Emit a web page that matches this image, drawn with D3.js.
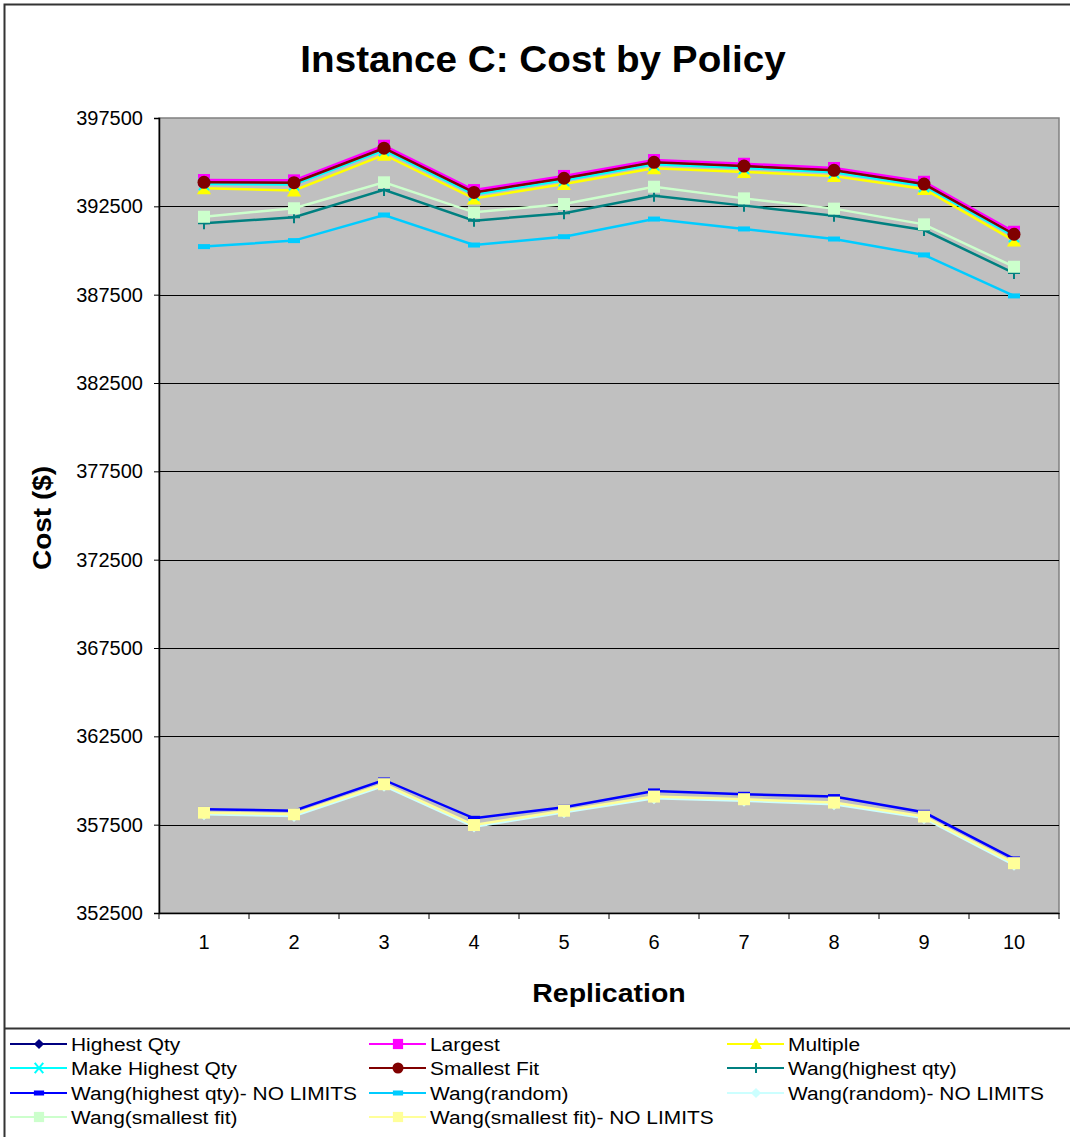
<!DOCTYPE html>
<html><head><meta charset="utf-8">
<script src="https://cdn.jsdelivr.net/npm/d3@7"></script>
<style>body{margin:0;background:#fff;} svg{display:block;font-family:"Liberation Sans",Arial,sans-serif;}</style>
</head><body>
<svg id="c" width="1070" height="1137"></svg>
<script>
const replications = [1,2,3,4,5,6,7,8,9,10];
const yTicks = [352500,357500,362500,367500,372500,377500,382500,387500,392500,397500];
const seriesNames = ["Highest Qty","Largest","Multiple","Make Highest Qty","Smallest Fit","Wang(highest qty)","Wang(highest qty)- NO LIMITS","Wang(random)","Wang(random)- NO LIMITS","Wang(smallest fit)","Wang(smallest fit)- NO LIMITS"];
const highestQty       = [393840,393820,395770,393270,394070,394970,394760,394520,393740,390900];
const largest          = [393990,393970,395930,393420,394220,395120,394910,394670,393890,391060];
const multiple         = [393520,393400,395420,392940,393760,394650,394450,394210,393480,390560];
const makeHighestQty   = [393760,393740,395680,393170,393980,394880,394670,394430,393650,390810];
const smallestFit      = [393860,393840,395790,393290,394090,394990,394780,394540,393760,390920];
const wangHighestQty   = [391540,391880,393430,391690,392110,393100,392540,391970,391160,388720];
const wangHighestQtyNL = [358370,358290,360030,357860,358490,359410,359220,359090,358200,355560];
const wangRandom       = [390220,390560,392010,390310,390780,391780,391220,390650,389750,387430];
const wangRandomNL     = [358090,357990,359700,357390,358200,359000,358850,358660,357870,355230];
const wangSmallestFit  = [391910,392390,393860,392160,392630,393610,392950,392370,391480,389080];
const wangSmallestFitNL= [358180,358090,359790,357480,358290,359090,358940,358750,357960,355320];

const seriesValues = [highestQty,largest,multiple,makeHighestQty,smallestFit,wangHighestQty,wangHighestQtyNL,wangRandom,wangRandomNL,wangSmallestFit,wangSmallestFitNL];
const styles = [
  {color:"#000080", marker:"diamond"},
  {color:"#FF00FF", marker:"square"},
  {color:"#FFFF00", marker:"triangle"},
  {color:"#00FFFF", marker:"x"},
  {color:"#800000", marker:"circle"},
  {color:"#008080", marker:"plus"},
  {color:"#0000FF", marker:"dash"},
  {color:"#00CCFF", marker:"dash"},
  {color:"#CCFFFF", marker:"diamond"},
  {color:"#CCFFCC", marker:"square"},
  {color:"#FFFF99", marker:"square"}
];

const svg = d3.select("#c");
const L=159, R=1059, T=118, B=913;
const x = d3.scaleBand().domain(replications).range([L,R]);
const y = d3.scaleLinear().domain([352500,397500]).range([B,T]);

// outer border
svg.append("rect").attr("x",4.5).attr("y",4.5).attr("width",1075).attr("height",1140)
  .attr("fill","#fff").attr("stroke","#333").attr("stroke-width",2);

// title
svg.append("text").attr("transform","translate(543,72) scale(1.045,1)").attr("text-anchor","middle")
  .attr("font-size",37).attr("font-weight","bold").text("Instance C: Cost by Policy");

// plot area
svg.append("rect").attr("x",L).attr("y",T).attr("width",R-L).attr("height",B-T)
  .attr("fill","#C0C0C0").attr("stroke","#808080").attr("stroke-width",1.5);

// gridlines
svg.append("g").selectAll("line").data(yTicks.slice(1,-1)).join("line")
  .attr("x1",L).attr("x2",R).attr("y1",d=>Math.round(y(d))+0.5).attr("y2",d=>Math.round(y(d))+0.5)
  .attr("stroke","#000").attr("stroke-width",1);

// y axis
const yAxis = d3.axisLeft(y).tickValues(yTicks).tickSize(5).tickPadding(11).tickFormat(d3.format("d"));
const gy = svg.append("g").attr("transform",`translate(${L},0)`).call(yAxis);
gy.selectAll("text").attr("font-size",20).attr("fill","#000").attr("font-family","Liberation Sans, Arial, sans-serif");
gy.selectAll("line,path").attr("stroke","#000");
gy.select(".domain").attr("stroke-width",1.5);

// x axis
const xAxis = d3.axisBottom(x).tickSize(0).tickPadding(22);
const gx = svg.append("g").attr("transform",`translate(0,${B})`).call(xAxis);
gx.selectAll("text").attr("font-size",20).attr("fill","#000").attr("font-family","Liberation Sans, Arial, sans-serif");
gx.select(".domain").attr("stroke","#000").attr("stroke-width",1.5);
const sepX = replications.map(r=>x(r)).concat([R]);
gx.append("g").selectAll("line").data(sepX).join("line")
  .attr("x1",d=>d).attr("x2",d=>d).attr("y1",0).attr("y2",6).attr("stroke","#000");

// axis titles
svg.append("text").attr("transform","translate(609,1002) scale(1.14,1)").attr("text-anchor","middle")
  .attr("font-size",25).attr("font-weight","bold").text("Replication");
svg.append("text").attr("transform","translate(51,518) rotate(-90) scale(1.12,1)").attr("text-anchor","middle")
  .attr("font-size",25).attr("font-weight","bold").text("Cost ($)");

function drawMarker(g, m, color, cx, cy, scale){
  const s = scale||1;
  if(m==="diamond"){
    g.append("path").attr("d",`M${cx},${cy-6*s}L${cx+6*s},${cy}L${cx},${cy+6*s}L${cx-6*s},${cy}Z`).attr("fill",color);
  } else if(m==="square"){
    g.append("rect").attr("x",cx-6*s).attr("y",cy-6*s).attr("width",12*s).attr("height",12*s).attr("fill",color);
  } else if(m==="triangle"){
    g.append("path").attr("d",`M${cx},${cy-7*s}L${cx+7*s},${cy+6*s}L${cx-7*s},${cy+6*s}Z`).attr("fill",color);
  } else if(m==="circle"){
    g.append("circle").attr("cx",cx).attr("cy",cy).attr("r",6.5*s).attr("fill",color);
  } else if(m==="x"){
    g.append("path").attr("d",`M${cx-5*s},${cy-6*s}L${cx+5*s},${cy+6*s}M${cx+5*s},${cy-6*s}L${cx-5*s},${cy+6*s}`)
      .attr("stroke",color).attr("stroke-width",2).attr("fill","none");
  } else if(m==="plus"){
    g.append("path").attr("d",`M${cx-6*s},${cy}L${cx+6*s},${cy}M${cx},${cy-6*s}L${cx},${cy+6*s}`)
      .attr("stroke",color).attr("stroke-width",2).attr("fill","none");
  } else if(m==="dash"){
    g.append("rect").attr("x",cx-6*s).attr("y",cy-2.5).attr("width",12*s).attr("height",5).attr("fill",color);
  }
}

const cx = r => x(r)+x.bandwidth()/2;
const line = d3.line().x((d,i)=>cx(replications[i])).y(d=>y(d));
const plot = svg.append("g");
seriesValues.forEach((vals,i)=>{
  const st = styles[i];
  const g = plot.append("g");
  g.append("path").attr("d",line(vals)).attr("fill","none").attr("stroke",st.color).attr("stroke-width",2.5);
  vals.forEach((v,j)=>drawMarker(g, st.marker, st.color, cx(replications[j]), y(v)));
});

// legend
svg.append("line").attr("x1",4).attr("x2",1070).attr("y1",1028.5).attr("y2",1028.5).attr("stroke","#333").attr("stroke-width",2);
const colX = [10, 369, 727];
const rowY = [1044, 1068, 1093, 1117];
const lg = svg.append("g");
seriesNames.forEach((name,i)=>{
  const c = i%3, r = Math.floor(i/3);
  const x0 = colX[c], yy = rowY[r];
  const st = styles[i];
  lg.append("line").attr("x1",x0).attr("x2",x0+57).attr("y1",yy).attr("y2",yy).attr("stroke",st.color).attr("stroke-width",2);
  drawMarker(lg, st.marker, st.color, x0+29, yy, 0.85);
  lg.append("text").attr("transform",`translate(${x0+61},${yy+7}) scale(1.1,1)`).attr("font-size",19).text(name);
});
</script>
</body></html>
